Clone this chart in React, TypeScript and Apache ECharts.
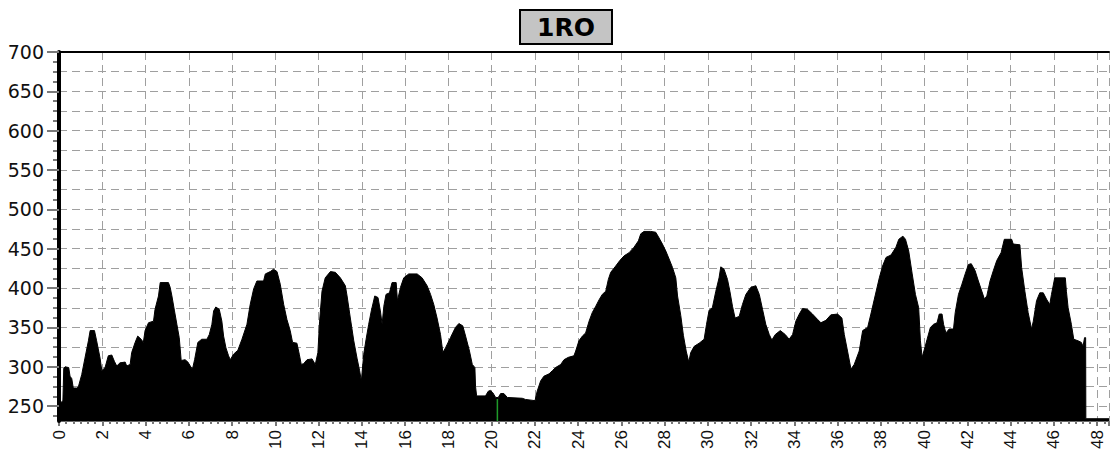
import React, { useEffect, useRef } from "react";
import * as echarts from "echarts";

// [hour, value] vertices, by time segment
const segA: number[][] = [
  [0, 248], [0.1, 255], [0.18, 257], [0.22, 298], [0.28, 300], [0.45, 299], [0.51, 288], [0.59, 285],
  [0.66, 273], [0.82, 273], [0.9, 275], [1.05, 290], [1.2, 311], [1.36, 333], [1.44, 346], [1.64, 346],
  [1.74, 333], [1.9, 311], [1.98, 295], [2.13, 299], [2.28, 314], [2.44, 315], [2.56, 307], [2.67, 301],
  [2.82, 305], [3.06, 306], [3.13, 301], [3.29, 303], [3.36, 318], [3.52, 331], [3.64, 339], [3.8, 335],
  [3.9, 331], [3.98, 346], [4.14, 356], [4.37, 358], [4.44, 373], [4.6, 390], [4.68, 407], [5.06, 407],
  [5.14, 401], [5.22, 390], [5.34, 371], [5.45, 354], [5.56, 337], [5.65, 308], [5.83, 309], [5.96, 306],
  [6.07, 301], [6.17, 297], [6.27, 309], [6.42, 331], [6.6, 335], [6.84, 335], [6.95, 341], [7.07, 354],
  [7.15, 371], [7.25, 376], [7.41, 373], [7.53, 358], [7.61, 339], [7.72, 324], [7.84, 314], [7.92, 309],
  [8.07, 316], [8.27, 321], [8.46, 335], [8.69, 354], [8.84, 379], [9.0, 399], [9.15, 409], [9.46, 409],
];
const segB: number[][] = [
  [9.54, 418], [9.77, 421], [9.92, 424], [10.08, 421], [10.23, 405], [10.39, 379], [10.54, 360], [10.69, 346],
  [10.8, 331], [11.0, 330], [11.11, 316], [11.2, 303], [11.31, 304], [11.47, 309], [11.7, 310], [11.85, 303],
  [11.97, 318], [12.05, 358], [12.16, 396], [12.31, 413], [12.55, 421], [12.78, 420], [13.01, 413], [13.24, 403],
  [13.32, 390], [13.47, 362], [13.63, 333], [13.78, 311], [13.9, 295], [13.98, 282], [14.09, 316], [14.2, 335],
  [14.32, 354], [14.44, 371], [14.6, 390], [14.75, 388], [14.86, 371], [14.94, 354], [15.02, 377], [15.12, 392],
  [15.28, 394], [15.4, 407], [15.59, 407], [15.65, 384], [15.79, 401], [15.94, 413], [16.17, 418], [16.56, 418],
  [16.79, 413], [17.02, 403], [17.18, 392], [17.33, 379], [17.48, 362], [17.64, 341], [17.75, 318], [17.87, 324],
  [18.1, 337], [18.33, 350], [18.49, 355], [18.67, 352], [18.8, 339], [18.98, 320], [19.11, 303], [19.23, 299],
];
const segC: number[][] = [
  [19.26, 275], [19.31, 263], [19.72, 263], [19.85, 269], [19.95, 270], [20.06, 267], [20.19, 261], [20.31, 261],
  [20.42, 266], [20.57, 266], [20.73, 261], [21.42, 260], [21.57, 258.5], [22.01, 257], [22.11, 269], [22.27, 282],
  [22.42, 288], [22.66, 291], [22.81, 295], [22.96, 299], [23.2, 303], [23.35, 309], [23.55, 312], [23.81, 314],
  [23.89, 320], [24.04, 333], [24.2, 339], [24.35, 343], [24.51, 358], [24.66, 369], [24.82, 377], [24.97, 385],
  [25.12, 392], [25.28, 396], [25.4, 411], [25.51, 420], [25.74, 428], [25.93, 435], [26.13, 441], [26.36, 445],
  [26.59, 452], [26.79, 460], [26.9, 469], [27.05, 472], [27.36, 472], [27.59, 471], [27.72, 465], [27.9, 456],
  [28.06, 447], [28.21, 437], [28.37, 426], [28.52, 413], [28.6, 390], [28.75, 365], [28.87, 340], [29.0, 320],
  [29.12, 306],
];
const segD: number[][] = [
  [29.21, 318], [29.37, 326], [29.6, 330], [29.83, 335], [29.94, 354], [30.06, 372], [30.21, 375], [30.37, 396],
  [30.52, 413], [30.6, 427], [30.75, 424], [30.91, 411], [31.02, 396], [31.14, 377], [31.26, 362], [31.45, 364],
  [31.6, 379], [31.76, 392], [31.99, 401], [32.22, 403], [32.38, 392], [32.53, 373], [32.68, 354], [32.84, 341],
  [32.96, 334], [33.12, 341], [33.35, 346], [33.58, 341], [33.76, 335], [33.92, 341], [34.07, 358], [34.23, 367],
  [34.38, 374], [34.61, 373], [34.84, 367], [35.08, 360], [35.23, 356], [35.46, 359], [35.69, 366], [36.0, 367],
  [36.2, 362], [36.31, 341], [36.46, 320], [36.62, 297], [36.77, 303], [37.0, 320], [37.16, 346], [37.39, 350],
  [37.54, 367], [37.7, 386], [37.93, 413], [38.08, 428], [38.24, 439], [38.47, 442], [38.7, 452],
];
const segE: number[][] = [
  [38.83, 462], [39.02, 466], [39.14, 462], [39.29, 447], [39.45, 418], [39.6, 392], [39.75, 375], [39.83, 333],
  [39.91, 312], [40.03, 324], [40.14, 335], [40.29, 350], [40.44, 354], [40.6, 356], [40.7, 367], [40.83, 367],
  [40.9, 354], [41.01, 343], [41.16, 348], [41.36, 348], [41.44, 369], [41.59, 392], [41.75, 405], [41.9, 418],
  [42.05, 430], [42.18, 431], [42.36, 422], [42.51, 409], [42.67, 396], [42.79, 386], [42.9, 390], [43.05, 409],
  [43.2, 422], [43.36, 435], [43.56, 445], [43.71, 462], [44.05, 462], [44.12, 456], [44.43, 455], [44.51, 426],
  [44.66, 396], [44.81, 369], [44.97, 348], [45.05, 358], [45.2, 384], [45.35, 394], [45.51, 394], [45.66, 386],
  [45.81, 379], [45.89, 392], [46.04, 413], [46.53, 413], [46.58, 396], [46.66, 375], [46.81, 354], [46.92, 335],
  [47.12, 333], [47.27, 331], [47.35, 326], [47.42, 337], [47.47, 337], [47.48, 234], [48.55, 234],
];
const greenMark: number[][] = [[20.27, 259], [20.27, 231]];

const yMin = 231;
const yMax = 700;
const xMin = 0;
const xMax = 48.55;
const yLabelValues = [250, 300, 350, 400, 450, 500, 550, 600, 650, 700];
const yMinorTickValues: number[] = [];
for (let v = 237.5; v <= 700; v += 12.5) yMinorTickValues.push(v);
const yGridValues: number[] = [];
for (let v = 250; v <= 700; v += 25) yGridValues.push(v);

const FONT = "DejaVu Sans";
const gridDash = { color: "#9f9f9f", width: 1, type: [8, 5] as number[] };

export default function App() {
  const ref = useRef<HTMLDivElement>(null);
  useEffect(() => {
    const chart = echarts.init(ref.current!, null, { renderer: "svg" });
    const profile = [...segA, ...segB, ...segC, ...segD, ...segE];
    chart.setOption({
      animation: false,
      backgroundColor: "#fff",
      title: {
        text: "1RO",
        left: 520,
        top: 10,
        backgroundColor: "#c4c4c4",
        borderColor: "#000",
        borderWidth: 2,
        padding: [4, 17],
        textStyle: { fontFamily: FONT, fontSize: 25, fontWeight: "bold", color: "#000", lineHeight: 26 },
      },
      grid: { left: 59, right: 1, top: 52, bottom: 30, containLabel: false },
      xAxis: [
        {
          type: "value",
          min: xMin,
          max: xMax,
          interval: 2,
          position: "bottom",
          axisLine: { show: true, onZero: false, lineStyle: { color: "#666", width: 1 } },
          axisTick: { show: true, length: 5, lineStyle: { color: "#777", width: 2 } },
          minorTick: { show: true, splitNumber: 6, length: 3, lineStyle: { color: "#777", width: 2 } },
          axisLabel: {
            rotate: 90,
            margin: 9,
            fontFamily: "Liberation Sans",
            fontSize: 17,
            color: "#111",
            formatter: (v: number) => (Math.abs(v % 2) < 1e-9 && v <= 48 ? String(v) : ""),
          },
          splitLine: { show: true, lineStyle: gridDash },
        },
        {
          type: "value",
          min: xMin,
          max: xMax,
          position: "top",
          axisLine: { show: true, onZero: false, lineStyle: { color: "#000", width: 2 } },
          axisTick: { show: false },
          axisLabel: { show: false },
          splitLine: { show: false },
        },
      ],
      yAxis: [
        {
          type: "value",
          min: yMin,
          max: yMax,
          position: "left",
          axisLine: { show: true, onZero: false, lineStyle: { color: "#000", width: 4 } },
          axisTick: { show: true, customValues: yLabelValues, length: 12, lineStyle: { color: "#7a7a7a", width: 2 } },
          axisLabel: { customValues: yLabelValues, margin: 15, fontFamily: FONT, fontSize: 19, color: "#111" },
          splitLine: { show: false },
          z: 10,
        },
        {
          type: "value",
          min: yMin,
          max: yMax,
          position: "left",
          axisLine: { show: false },
          axisTick: { show: true, customValues: yMinorTickValues, length: 6, lineStyle: { color: "#7a7a7a", width: 2 } },
          axisLabel: { show: false },
          splitLine: { show: false },
        },
        {
          type: "value",
          min: yMin,
          max: yMax,
          position: "left",
          axisLine: { show: false },
          axisTick: { show: false, customValues: yGridValues },
          axisLabel: { show: false },
          splitLine: { show: true, lineStyle: gridDash },
        },
      ],
      series: [
        {
          type: "line",
          data: profile,
          xAxisIndex: 0,
          yAxisIndex: 0,
          symbol: "none",
          showSymbol: false,
          lineStyle: { color: "#000", width: 1 },
          areaStyle: { color: "#000", opacity: 1, origin: "start" },
          z: 2,
        },
        {
          type: "line",
          data: greenMark,
          xAxisIndex: 0,
          yAxisIndex: 0,
          symbol: "none",
          showSymbol: false,
          lineStyle: { color: "#1f9a2a", width: 1.5 },
          z: 3,
        },
      ],
    });
    return () => chart.dispose();
  }, []);
  return (
    <div
      ref={ref}
      style={{ position: "fixed", left: 0, top: 0, width: 1110, height: 452, background: "#fff" }}
    />
  );
}
